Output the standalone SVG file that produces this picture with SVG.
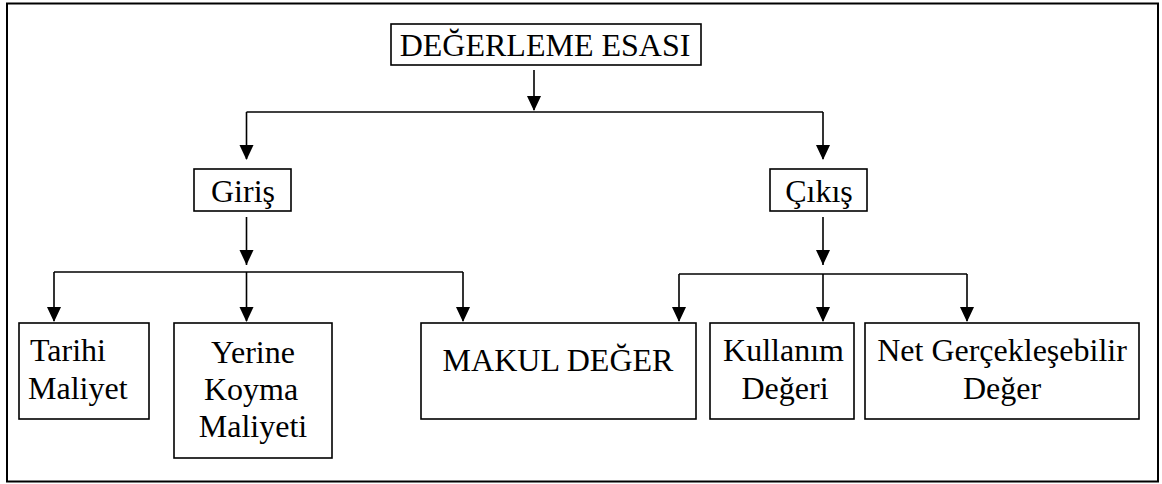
<svg xmlns="http://www.w3.org/2000/svg" width="1162" height="484" viewBox="0 0 1162 484">
<style>
.box{fill:#fff;stroke:#000;stroke-width:1.6}
.t{font-family:"Liberation Serif","Times New Roman",serif;font-size:32px;fill:#000}
.c{text-anchor:middle}
.ln{fill:none;stroke:#000;stroke-width:1.6}
</style>
<defs>
<path id="ah" d="M-7,-15 L7,-15 L0,0 Z" fill="#000"/>
</defs>
<rect x="7" y="3.5" width="1151" height="478" fill="#fff" stroke="#000" stroke-width="2"/>
<g id="connectors">
<path class="ln" d="M534,70 V110"/>
<path class="ln" d="M246.5,112 H823"/>
<path class="ln" d="M246.5,112 V159"/>
<path class="ln" d="M823,112 V159"/>
<path class="ln" d="M246.5,217 V265"/>
<path class="ln" d="M54,272 H463"/>
<path class="ln" d="M54,272 V321"/>
<path class="ln" d="M246.5,272 V321"/>
<path class="ln" d="M463,272 V321"/>
<path class="ln" d="M823,217 V265"/>
<path class="ln" d="M679,274 H967"/>
<path class="ln" d="M679,274 V321"/>
<path class="ln" d="M823,274 V321"/>
<path class="ln" d="M967,274 V321"/>
<use href="#ah" x="534" y="111"/>
<use href="#ah" x="246.5" y="160"/>
<use href="#ah" x="823" y="160"/>
<use href="#ah" x="246.5" y="265"/>
<use href="#ah" x="823" y="265"/>
<use href="#ah" x="54" y="322"/>
<use href="#ah" x="246.5" y="322"/>
<use href="#ah" x="463" y="322"/>
<use href="#ah" x="679" y="322"/>
<use href="#ah" x="823" y="322"/>
<use href="#ah" x="967" y="322"/>
</g>
<g id="root"><rect class="box" x="391" y="24" width="310" height="41"/><text class="t c" x="545" y="56">DEĞERLEME ESASI</text></g>
<g id="giris"><rect class="box" x="194" y="169" width="97" height="42"/><text class="t c" x="243" y="202">Giriş</text></g>
<g id="cikis"><rect class="box" x="770" y="169" width="97" height="42"/><text class="t c" x="819" y="202">Çıkış</text></g>
<g id="tarihi"><rect class="box" x="19" y="323" width="130" height="96"/><text class="t" x="30" y="361">Tarihi</text><text class="t" x="28" y="399">Maliyet</text></g>
<g id="yerine"><rect class="box" x="174" y="323" width="158" height="135"/><text class="t c" x="253" y="363">Yerine</text><text class="t c" x="251" y="400">Koyma</text><text class="t c" x="253" y="437">Maliyeti</text></g>
<g id="makul"><rect class="box" x="421" y="323" width="275" height="96"/><text class="t c" x="558" y="371">MAKUL DEĞER</text></g>
<g id="kullanim"><rect class="box" x="710" y="323" width="144" height="96"/><text class="t c" x="783.5" y="361">Kullanım</text><text class="t c" x="785" y="399">Değeri</text></g>
<g id="net"><rect class="box" x="865" y="323" width="274" height="96"/><text class="t c" x="1002" y="361">Net Gerçekleşebilir</text><text class="t c" x="1002" y="399">Değer</text></g>
</svg>
